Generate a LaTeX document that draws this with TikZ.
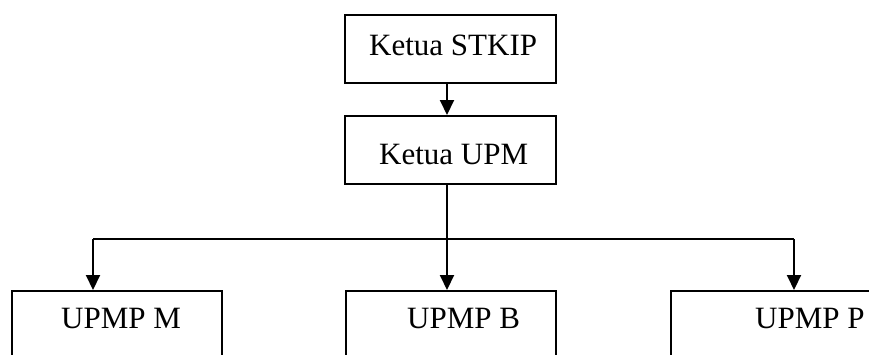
\documentclass[tikz,border=0pt]{standalone}
\usepackage{fontspec}
\setmainfont{Liberation Serif}
\usetikzlibrary{arrows.meta}
\begin{document}
\begin{tikzpicture}[x=1pt,y=-1pt,
  box/.style={draw,line width=2pt,inner sep=0pt,minimum width=211pt,minimum height=68pt},
  openbox/.style={draw,line width=2pt,inner sep=0pt,minimum width=210pt,minimum height=140pt},
  lbl/.style={anchor=base west,inner sep=0pt,font=\fontsize{31}{37}\selectfont},
  link/.style={line width=2pt},
  arr/.style={line width=2pt,-{Triangle[length=15pt,width=14pt]}}]
\useasboundingbox (0,0) rectangle (869,354);
\clip (0,0) rectangle (869,354);
% boxes
\node[box] (s) at (450.5,49) {};
\node[box] (u) at (450.5,150) {};
\node[openbox] (m) at (117,361) {};
\node[openbox] (b) at (450.5,361) {};
\node[openbox] (p) at (776,361) {};
% texts
\node[lbl] (ts) at (369,55) {Ketua STKIP};
\node[lbl] (tu) at (379,164) {Ketua UPM};
\node[lbl] (tm) at (61,328) {UPMP M};
\node[lbl] (tb) at (407,328) {UPMP B};
\node[lbl] (tp) at (755,328) {UPMP P};
% junctions
\coordinate (jb) at (447,239);
\coordinate (jm) at (93,239);
\coordinate (jp) at (794,239);
% connectors
\draw[arr] (s.south -| jb) -- (u.north -| jb);
\draw[link] (u.south -| jb) -- (jb);
\draw[link] (jm) -- (jp);
\draw[arr] (jm) -- (jm |- m.north);
\draw[arr] (jb) -- (jb |- b.north);
\draw[arr] (jp) -- (jp |- p.north);
\end{tikzpicture}
\end{document}
